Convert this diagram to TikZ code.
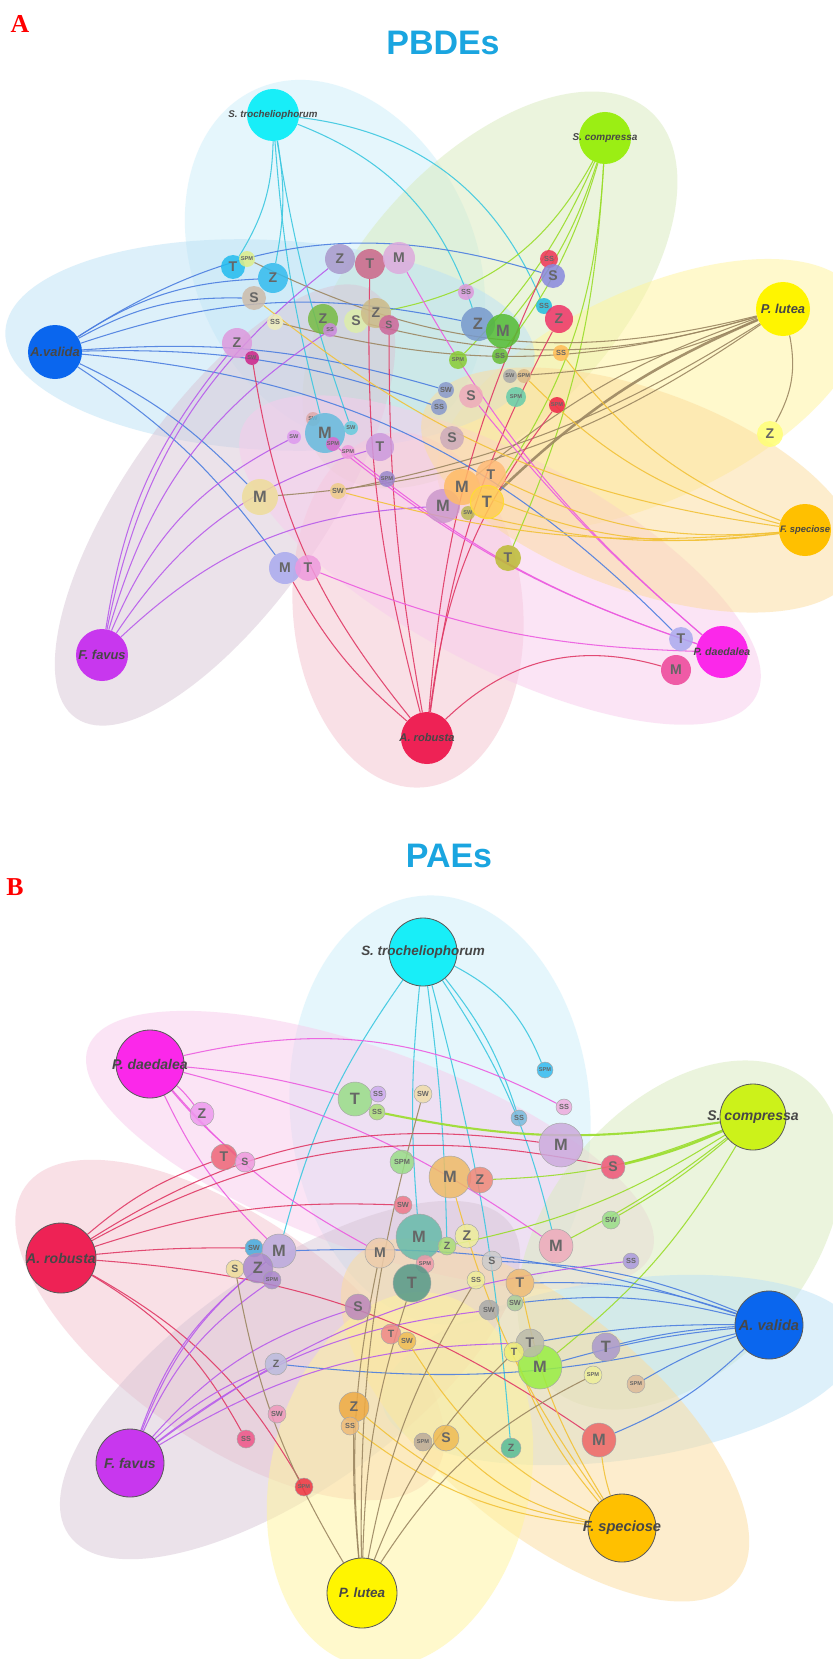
\documentclass[tikz,border=0pt]{standalone}
\usepackage{fontspec}
\setsansfont{Liberation Sans}
\newfontfamily\lblserif{Liberation Serif}

% hub colours
\definecolor{cTroch}{HTML}{18EEF8}
\definecolor{cComp}{HTML}{9BEE14}
\definecolor{cCompB}{HTML}{CCF21A}
\definecolor{cLutea}{HTML}{FFF500}
\definecolor{cValida}{HTML}{0A66EE}
\definecolor{cFavus}{HTML}{C837EE}
\definecolor{cRobusta}{HTML}{EE2255}
\definecolor{cDaed}{HTML}{FB28EA}
\definecolor{cSpec}{HTML}{FFC000}
% link colours
\definecolor{eTroch}{HTML}{3CC8E0}
\definecolor{eComp}{HTML}{9ADD2A}
\definecolor{eLutea}{HTML}{9C8762}
\definecolor{eValida}{HTML}{4C7EE0}
\definecolor{eFavus}{HTML}{B85CEB}
\definecolor{eRobusta}{HTML}{E03A66}
\definecolor{eDaed}{HTML}{EC5CE0}
\definecolor{eSpec}{HTML}{F2C238}
% region colours
\definecolor{rTroch}{HTML}{CDEFFB}
\definecolor{rComp}{HTML}{D9EBBC}
\definecolor{rLutea}{HTML}{FFF49A}
\definecolor{rValida}{HTML}{BCE2F6}
\definecolor{rFavus}{HTML}{D8C6D6}
\definecolor{rRobusta}{HTML}{F4C3CF}
\definecolor{rDaed}{HTML}{F8CBEC}
\definecolor{rSpec}{HTML}{FCDC9C}
\definecolor{ttlblue}{HTML}{1AA5E0}
\definecolor{tRing}{HTML}{FFDD33}

\newcommand{\fL}{\sffamily\bfseries\fontsize{14}{14}\selectfont}
\newcommand{\fM}{\sffamily\bfseries\fontsize{12}{12}\selectfont}
\newcommand{\fS}{\sffamily\bfseries\fontsize{9}{9}\selectfont}
\newcommand{\fT}{\sffamily\bfseries\fontsize{6.3}{6.3}\selectfont}
\newcommand{\fX}{\sffamily\bfseries\fontsize{4.8}{4.8}\selectfont}

\pgfdeclarelayer{blobs}
\pgfdeclarelayer{links}
\pgfsetlayers{blobs,links,main}

\tikzset{
  hx/.code={\definecolor{nf#1}{HTML}{#1}\pgfkeysalso{fill=nf#1}},
  nd/.style={circle, inner sep=0pt, fill opacity=.85, text opacity=1, text=black!60},
  ndB/.style={nd, draw=black!35, line width=.4pt},
  hub/.style={circle, inner sep=0pt, minimum size=#1*0.6mm},
  hubB/.style={hub=#1, draw=black!65, line width=.7pt},
  hlbl/.style={font=\sffamily\bfseries\itshape\fontsize{#1}{#1}\selectfont, text=black!72},
  lk/.style={draw=#1, line width=.9pt, draw opacity=.9},
  blob/.style={fill=#1, fill opacity=.5},
  ttl/.style={font=\sffamily\bfseries\fontsize{29}{29}\selectfont, text=ttlblue},
  plbl/.style={font=\lblserif\bfseries\fontsize{22}{22}\selectfont, text=red},
}

\begin{document}
\begin{tikzpicture}[x=0.03cm, y=-0.03cm]
\useasboundingbox (0,0) rectangle (832,1659);
\begin{pgfonlayer}{blobs}
\fill[white] (0,0) rectangle (832,1659);
\end{pgfonlayer}

% ---------------- panel A ----------------
\node[plbl] (pA) at (20,24) {A};
\node[ttl] (tA) at (443,43) {PBDEs};

% shaded groups
\begin{pgfonlayer}{blobs}
\foreach \col/\cx/\cy/\rx/\ry/\rot in {rTroch/335/262/140/190/25, rComp/490/290/240/130/48,
    rLutea/650/395/230/105/25, rValida/270/345/265/105/-3, rFavus/225/505/260/100/55,
    rRobusta/408/610/115/178/5, rDaed/500/560/290/105/-28, rSpec/640/490/230/100/-20}
  \fill[blob=\col, rotate around={\rot:(\cx,\cy)}] (\cx,\cy) ellipse [x radius=\rx, y radius=\ry];
\end{pgfonlayer}

% species
\node[hub=26, fill=cTroch] (aTroch) at (273,115) {};
\node[hub=26, fill=cComp] (aComp) at (605,138) {};
\node[hub=27, fill=cLutea] (aLutea) at (783,309) {};
\node[hub=27, fill=cValida] (aValida) at (55,352) {};
\node[hub=26, fill=cFavus] (aFavus) at (102,655) {};
\node[hub=26, fill=cRobusta] (aRobusta) at (427,738) {};
\node[hub=26, fill=cDaed] (aDaed) at (722,652) {};
\node[hub=26, fill=cSpec] (aSpec) at (805,530) {};

% samples
\foreach \nm/\x/\y/\rad/\col/\txt/\fnt in {
  aT1/233/267/12/22BBEE/T/\fM, aSPM1/247/259/8/DDEE88/SPM/\fX, aZ1/273/278/15/33BBEE/Z/\fM,
  aS1/254/298/12/CCBBAA/S/\fM, aSS1/275/322/8/EEEEBB/SS/\fT, aZ2/340/259/15/AA99CC/Z/\fM,
  aT2/370/264/15/CC6688/T/\fM, aM1/399/258/16/DDAADD/M/\fM, aZ3/323/319/15/77BB44/Z/\fM,
  aSS2/330/330/7/CC88DD/SS/\fX, aS2/356/321/12/DDEEAA/S/\fM, aZ4/376/313/15/CCBB88/Z/\fM,
  aS3/389/325/10/CC6699/S/\fS, aSS3/466/292/8/DD99DD/SS/\fT, aSS4/549/259/9/EE3355/SS/\fT,
  aS4/553/276/12/8888DD/S/\fM, aSS5/544/306/8/22BBDD/SS/\fT, aZ5/559/319/14/EE3366/Z/\fM,
  aZ6/478/324/17/7799CC/Z/\fL, aM2/503/331/17/55BB33/M/\fL, aZ7/237/343/15/DD99DD/Z/\fM,
  aSW1/252/358/7/CC2288/SW/\fX, aSPM2/458/360/9/88CC33/SPM/\fX, aSS6/500/356/8/66BB33/SS/\fT,
  aSS7/561/353/8/FFBB55/SS/\fT, aSW2/510/376/7/AAAAAA/SW/\fX, aSPM3/524/376/7/DDBB88/SPM/\fX,
  aSW3/446/390/8/8899CC/SW/\fT, aS5/471/396/12/EEAABB/S/\fM, aSPM4/516/397/10/66CCAA/SPM/\fX,
  aSPM5/557/405/8/EE2244/SPM/\fX, aSS8/439/407/8/8899CC/SS/\fT, aSW4/313/419/7/DDAAAA/SW/\fX,
  aM3/325/433/20/66BBDD/M/\fL, aSW5/351/428/7/66CCDD/SW/\fX, aSW6/294/437/7/DD99EE/SW/\fX,
  aSPM6/333/444/7/DD66CC/SPM/\fX, aSPM7/348/452/7/EE99DD/SPM/\fX, aT3/380/447/14/CC99DD/T/\fM,
  aSPM8/387/479/8/9988CC/SPM/\fX, aS6/452/438/12/CCAABB/S/\fM, aSW7/338/491/8/EECC88/SW/\fT,
  aM4/260/497/18/EEDD99/M/\fL, aM6/443/506/17/CC99CC/M/\fL, aSW8/468/513/7/BBBB55/SW/\fX,
  aM5/462/487/18/FFBB66/M/\fL, aT4/491/475/15/FFBB77/T/\fM, aT5/487/502/17/FFCC55/T/\fL,
  aT6/508/558/13/BBBB33/T/\fM, aZ8/770/434/13/FFFF77/Z/\fM, aM7/285/568/16/AAAAEE/M/\fM,
  aT7/308/568/13/EE99DD/T/\fM, aT8/681/639/12/AAAAEE/T/\fM, aM8/676/670/15/EE4499/M/\fM}
  \node[nd, hx=\col, minimum size=\rad*0.6mm, font=\fnt] (\nm) at (\x,\y) {\txt};
\draw[tRing, line width=.8pt] (aT5) circle [radius=16.5];

% links
\begin{pgfonlayer}{links}
\foreach \nm/\b in {aT1/15, aZ1/10, aM3/-5, aSW5/-5, aZ6/25, aSS5/30}
  \draw[lk=eTroch] (aTroch) to[bend left=\b] (\nm);
\foreach \nm/\b in {aZ4/25, aM2/10, aSPM2/10, aSS6/10, aT6/10, aT5/15}
  \draw[lk=eComp] (aComp) to[bend left=\b] (\nm);
\foreach \nm/\b in {aZ8/20, aM5/-10, aSPM1/20, aSS1/15, aS2/15, aSW2/10, aM4/15, aSW7/10}
  \draw[lk=eLutea] (aLutea) to[bend left=\b] (\nm);
\draw[lk=eLutea, line width=2.2pt] (aLutea) to[bend left=-10] (aT5);
\foreach \nm/\b in {aS4/25, aZ1/15, aS1/15, aZ6/15, aSW3/10, aSS8/10, aM4/10, aT8/20, aM7/10}
  \draw[lk=eValida] (aValida) to[bend left=\b] (\nm);
\foreach \nm/\b in {aZ2/20, aZ7/15, aSW6/20, aT3/20, aM6/20, aSS2/20}
  \draw[lk=eFavus] (aFavus) to[bend left=\b] (\nm);
\foreach \nm/\b in {aT2/8, aSW1/15, aS3/5, aSS4/10, aZ5/10, aSPM5/15, aM7/10, aM8/30}
  \draw[lk=eRobusta] (aRobusta) to[bend left=\b] (\nm);
\foreach \nm/\b in {aM1/10, aSPM6/10, aSPM7/10, aT7/10, aS5/5}
  \draw[lk=eDaed] (aDaed) to[bend left=\b] (\nm);
\foreach \nm/\b in {aSS7/15, aSPM3/15, aT4/15, aM5/15, aSW7/10, aSW8/10, aS1/15}
  \draw[lk=eSpec] (aSpec) to[bend left=\b] (\nm);
\end{pgfonlayer}

% species labels
\node[hlbl=8.3] (aTrochL) at (aTroch) {S. trocheliophorum};
\node[hlbl=8.5] (aCompL) at (aComp) {S. compressa};
\node[hlbl=11] (aLuteaL) at (aLutea) {P. lutea};
\node[hlbl=11] (aValidaL) at (aValida) {A.valida};
\node[hlbl=11] (aFavusL) at (aFavus) {F. favus};
\node[hlbl=9.5] (aRobustaL) at (aRobusta) {A. robusta};
\node[hlbl=9] (aDaedL) at (aDaed) {P. daedalea};
\node[hlbl=8] (aSpecL) at (aSpec) {F. speciose};

% ---------------- panel B ----------------
\node[plbl] (pB) at (15,887) {B};
\node[ttl] (tB) at (449,856) {PAEs};

\begin{pgfonlayer}{blobs}
\foreach \col/\cx/\cy/\rx/\ry/\rot in {rTroch/440/1110/150/215/5, rDaed/370/1150/300/100/-20,
    rComp/680/1235/200/130/50, rRobusta/230/1330/250/112/-35, rValida/620/1370/240/90/8,
    rFavus/290/1380/270/110/35, rSpec/545/1420/250/110/-40, rLutea/400/1480/190/130/78}
  \fill[blob=\col, rotate around={\rot:(\cx,\cy)}] (\cx,\cy) ellipse [x radius=\rx, y radius=\ry];
\end{pgfonlayer}

\node[hubB=34, fill=cTroch] (bTroch) at (423,952) {};
\node[hubB=34, fill=cDaed] (bDaed) at (150,1064) {};
\node[hubB=33, fill=cCompB] (bComp) at (753,1117) {};
\node[hubB=35, fill=cRobusta] (bRobusta) at (61,1258) {};
\node[hubB=34, fill=cValida] (bValida) at (769,1325) {};
\node[hubB=34, fill=cFavus] (bFavus) at (130,1463) {};
\node[hubB=34, fill=cSpec] (bSpec) at (622,1528) {};
\node[hubB=35, fill=cLutea] (bLutea) at (362,1593) {};

\foreach \nm/\x/\y/\rad/\col/\txt/\fnt in {
  bSPM1/545/1070/8/33BBEE/SPM/\fX, bT1/355/1099/17/99DD88/T/\fL, bSS1/378/1094/8/CCAAEE/SS/\fT,
  bSS2/377/1112/8/AADD77/SS/\fT, bSW1/423/1094/9/EEDDAA/SW/\fT, bZ1/202/1114/12/EE99EE/Z/\fM,
  bSS3/564/1107/8/EEAADD/SS/\fT, bSS4/519/1118/8/77BBDD/SS/\fT, bM1/561/1145/22/CCAADD/M/\fL,
  bS1/613/1167/12/EE5577/S/\fM, bT2/224/1157/13/EE6677/T/\fM, bS2/245/1162/10/EE99DD/S/\fS,
  bSPM2/402/1162/12/99DD88/SPM/\fT, bM2/450/1177/21/EEBB66/M/\fL, bZ2/480/1180/13/EE8877/Z/\fM,
  bSW2/403/1205/9/EE7788/SW/\fT, bSW3/611/1220/9/99DD88/SW/\fT, bM3/419/1237/23/66BBAA/M/\fL,
  bZ3/467/1236/12/EEEE99/Z/\fM, bZ4/447/1246/9/AADD77/Z/\fS, bM4/556/1246/17/EEAABB/M/\fL,
  bSW4/254/1248/9/44AADD/SW/\fT, bM5/279/1251/17/BBAADD/M/\fL, bM6/380/1253/15/EECCAA/M/\fM,
  bSS5/631/1261/8/AA99DD/SS/\fT, bS3/235/1269/9/EEDD99/S/\fS, bZ5/258/1268/15/AA88CC/Z/\fL,
  bSPM3/272/1280/9/AA88CC/SPM/\fX, bSPM4/425/1264/9/EE99AA/SPM/\fX, bS4/492/1261/10/CCCCCC/S/\fS,
  bSS6/476/1280/9/EEEE99/SS/\fT, bT3/520/1283/14/EEBB77/T/\fM, bT4/412/1283/19/559988/T/\fL,
  bSW5/515/1303/8/AACC99/SW/\fT, bSW6/489/1310/10/AAAAAA/SW/\fT, bS5/358/1307/13/BB88BB/S/\fM,
  bT5/391/1334/10/EE8888/T/\fS, bSW7/407/1341/9/EEBB55/SW/\fT, bM7/540/1367/22/99EE44/M/\fL,
  bT6/530/1343/14/BBBBAA/T/\fM, bT7/514/1352/10/EEEE77/T/\fS, bT8/606/1347/14/AA99CC/T/\fL,
  bSPM5/593/1375/9/EEEE99/SPM/\fX, bSPM6/636/1384/9/DDBB99/SPM/\fX, bZ6/276/1364/11/BBBBDD/Z/\fS,
  bZ7/354/1407/15/EEAA44/Z/\fM, bSS7/350/1426/9/EEBB77/SS/\fT, bSW8/277/1414/9/EE99BB/SW/\fT,
  bSS8/246/1439/9/EE5588/SS/\fT, bSPM7/304/1487/9/EE3344/SPM/\fX, bSPM8/423/1442/9/BBAA99/SPM/\fX,
  bS6/446/1438/13/EEBB55/S/\fM, bZ8/511/1448/10/55BB99/Z/\fS, bM8/599/1440/17/EE6666/M/\fL}
  \node[ndB, hx=\col, minimum size=\rad*0.6mm, font=\fnt] (\nm) at (\x,\y) {\txt};

\begin{pgfonlayer}{links}
\foreach \nm/\b in {bSPM1/20, bSS4/10, bM3/-5, bZ8/5, bM5/-10, bZ4/3, bM4/10}
  \draw[lk=eTroch] (bTroch) to[bend left=\b] (\nm);
\foreach \nm/\b in {bSS3/20, bT1/5, bZ1/5, bS2/-5, bM5/-10, bM6/-10, bM4/10}
  \draw[lk=eDaed] (bDaed) to[bend left=\b] (\nm);
\foreach \nm/\b in {bZ2/10, bSW3/5, bM4/5, bM7/10, bZ4/10}
  \draw[lk=eComp] (bComp) to[bend left=\b] (\nm);
\draw[lk=eComp, line width=2pt] (bComp) to[bend left=5] (bS1);
\draw[lk=eComp, line width=1.8pt] (bComp) to[bend left=10] (bSS2);
\foreach \nm/\b in {bT2/10, bS1/20, bM1/20, bSW2/10, bSW4/3, bM8/15, bSS8/15, bSPM7/15}
  \draw[lk=eRobusta] (bRobusta) to[bend left=\b] (\nm);
\foreach \nm/\b in {bT3/-10, bSW5/-10, bT8/-5, bM7/-5, bSPM6/-5, bM8/10, bZ6/10, bM5/-10, bS4/-10, bT6/-5}
  \draw[lk=eValida] (bValida) to[bend left=\b] (\nm);
\foreach \nm/\b in {bZ5/15, bSPM3/15, bS5/15, bSW6/15, bT6/15, bZ6/10, bSS5/15, bM5/15}
  \draw[lk=eFavus] (bFavus) to[bend left=\b] (\nm);
\foreach \nm/\b in {bS6/15, bSS7/15, bZ7/15, bSW7/15, bT7/10, bT3/10, bM2/10, bM8/5}
  \draw[lk=eSpec] (bSpec) to[bend left=\b] (\nm);
\foreach \nm/\b in {bS3/10, bSW1/8, bM6/8, bT4/8, bSS6/10, bSPM5/15, bT7/12, bZ7/3}
  \draw[lk=eLutea] (bLutea) to[bend left=\b] (\nm);
\end{pgfonlayer}

\node[hlbl=11.5] (bTrochL) at (bTroch) {S. trocheliophorum};
\node[hlbl=12] (bDaedL) at (bDaed) {P. daedalea};
\node[hlbl=12] (bCompL) at (bComp) {S. compressa};
\node[hlbl=12] (bRobustaL) at (bRobusta) {A. robusta};
\node[hlbl=12.5] (bValidaL) at (bValida) {A. valida};
\node[hlbl=12] (bFavusL) at (bFavus) {F. favus};
\node[hlbl=12.5] (bSpecL) at (bSpec) {F. speciose};
\node[hlbl=11.5] (bLuteaL) at (bLutea) {P. lutea};
\end{tikzpicture}
\end{document}
